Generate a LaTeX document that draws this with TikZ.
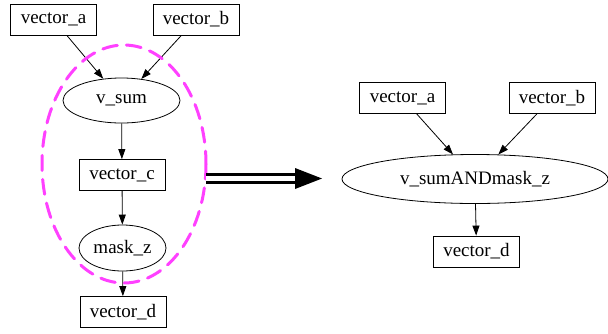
\documentclass[tikz,border=0pt]{standalone}
\usepackage{fontspec}
\setmainfont{Liberation Serif}
\usetikzlibrary{arrows.meta,shapes.geometric,calc}
\definecolor{dashpink}{RGB}{255,64,255}
\tikzset{
  box/.style={draw,line width=0.8pt,rectangle,minimum width=86pt,minimum height=31pt,inner sep=0pt,font=\fontsize{19}{21}\selectfont},
  oval/.style={draw,line width=0.8pt,ellipse,inner sep=0pt,font=\fontsize{19}{21}\selectfont},
  edge/.style={line width=0.8pt,-{Triangle[length=10pt,width=7pt]}},
  group/.style={draw=dashpink,line width=3pt,dash pattern=on 15pt off 9pt,line cap=round}
}
\begin{document}
\begin{tikzpicture}[x=1pt,y=-1pt]
\useasboundingbox (0,0) rectangle (608,333);
% left graph
\node[box] (la) at (53.5,19.5) {vector\_a};
\node[box] (lb) at (196,19.5) {vector\_b};
\node[oval,minimum width=117pt,minimum height=45pt] (vsum) at (121.5,100.5) {v\_sum};
\node[box] (lc) at (122,175) {vector\_c};
\node[oval,minimum width=87pt,minimum height=46pt] (mask) at (122.5,248) {mask\_z};
\node[box] (ld) at (123,312) {vector\_d};
\draw[edge] (la) -- (vsum);
\draw[edge] (lb) -- (vsum);
\draw[edge] (vsum) -- (lc);
\draw[edge] (lc) -- (mask);
\draw[edge] (mask) -- (ld);
% dashed group
\draw[group] (124,164) ellipse [x radius=82, y radius=119];
% transformation arrow
\coordinate (arrS) at (206,178.5);
\coordinate (arrB) at (295,178.5);
\coordinate (arrE) at (322,178.5);
\draw[line width=2.7pt,double=white,double distance=5pt] (arrS) -- (arrB);
\fill ($(arrB)+(0,-10.5)$) -- (arrE) -- ($(arrB)+(0,10.5)$) -- cycle;
% right graph
\node[box] (ra) at (402.5,98) {vector\_a};
\node[box] (rb) at (552,98) {vector\_b};
\node[oval,minimum width=266pt,minimum height=49pt] (vsm) at (475,179) {v\_sumANDmask\_z};
\node[box] (rd) at (476.5,251.5) {vector\_d};
\draw[edge] (ra) -- (vsm);
\draw[edge] (rb) -- (vsm);
\draw[edge] (vsm) -- (rd);
\end{tikzpicture}
\end{document}
